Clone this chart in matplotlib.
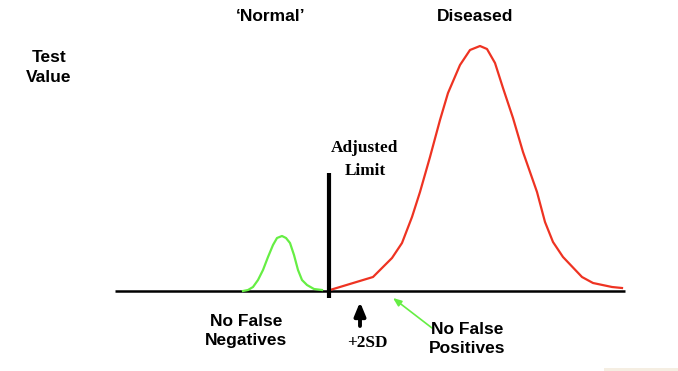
import matplotlib
matplotlib.use("Agg")
import matplotlib.pyplot as plt
from matplotlib.patches import Rectangle

# test value (x) vs frequency (y), arbitrary units
normal_x = [128, 133, 138, 143, 148, 153, 158, 162, 167, 171, 175, 179, 183, 187, 192, 199, 207]
normal_y = [0, 1, 4, 11, 21, 34, 46, 53, 55, 53, 48, 36, 21, 11, 6, 2, 1]

diseased_x = [215, 258, 277, 287, 297, 305, 315, 325, 333, 345, 355, 365, 372,
              380, 388, 398, 408, 422, 430, 438, 448, 467, 478, 497, 507]
diseased_y = [1, 14, 33, 48, 74, 99, 134, 171, 198, 226, 241, 245, 242,
              228, 203, 173, 139, 99, 69, 49, 34, 14, 8, 4, 3]

axis_start, axis_end = 0, 510
adjusted_limit = 214
limit_top = 118
sd2_value = 245

sans = "Liberation Sans"
serif = "Liberation Serif"

fig = plt.figure(figsize=(6.78, 3.71), dpi=100)
ax = fig.add_axes([0, 0, 1, 1])
ax.set_xlim(-115, 563)
ax.set_ylim(-80, 291)
ax.axis("off")

ax.plot([axis_start, axis_end], [0, 0], color="black", lw=1.8, solid_capstyle="butt")
ax.plot(normal_x, normal_y, color="#66ee44", lw=1.6)
ax.plot(diseased_x, diseased_y, color="#ee3322", lw=1.6)
ax.plot([adjusted_limit, adjusted_limit], [-7, limit_top], color="black", lw=3,
        solid_capstyle="butt")

# arrows
ax.annotate("", xy=(sd2_value, -11), xytext=(sd2_value, -35),
            arrowprops=dict(arrowstyle="-|>,head_width=0.33,head_length=0.8",
                            lw=2.8, color="black", shrinkA=0, shrinkB=0))
ax.annotate("", xy=(278, -7), xytext=(317, -37),
            arrowprops=dict(arrowstyle="-|>,head_width=0.2,head_length=0.5",
                            lw=1.2, color="#66ee44", shrinkA=0, shrinkB=0))

# labels (va="baseline" on multi-line text sits on the last line)
ax.text(156, 270, "\u2018Normal\u2019", family=sans, weight="bold", fontsize=12.5,
        ha="center", va="baseline")
ax.text(360, 270, "Diseased", family=sans, weight="bold", fontsize=12.5,
        ha="center", va="baseline")
ax.text(-66, 209, "Test\nValue", family=sans, weight="bold", fontsize=12.5,
        ha="center", va="baseline", multialignment="center", linespacing=1.45)
ax.text(250, 116, "Adjusted\nLimit", family=serif, weight="bold", fontsize=12.4,
        ha="center", va="baseline", multialignment="center", linespacing=1.55)
ax.text(131, -54, "No False\nNegatives", family=sans, weight="bold", fontsize=12.5,
        ha="center", va="baseline", multialignment="center", linespacing=1.3)
ax.text(252, -56, "+2SD", family=serif, weight="bold", fontsize=12.4,
        ha="center", va="baseline")
ax.text(352, -62, "No False\nPositives", family=sans, weight="bold", fontsize=12.5,
        ha="center", va="baseline", multialignment="center", linespacing=1.3)

fig.patches.append(Rectangle((604 / 678, 0), 74 / 678, 3 / 371, transform=fig.transFigure,
                             facecolor="#f5eee2", edgecolor="none"))

fig.savefig("out.png", dpi=100)
